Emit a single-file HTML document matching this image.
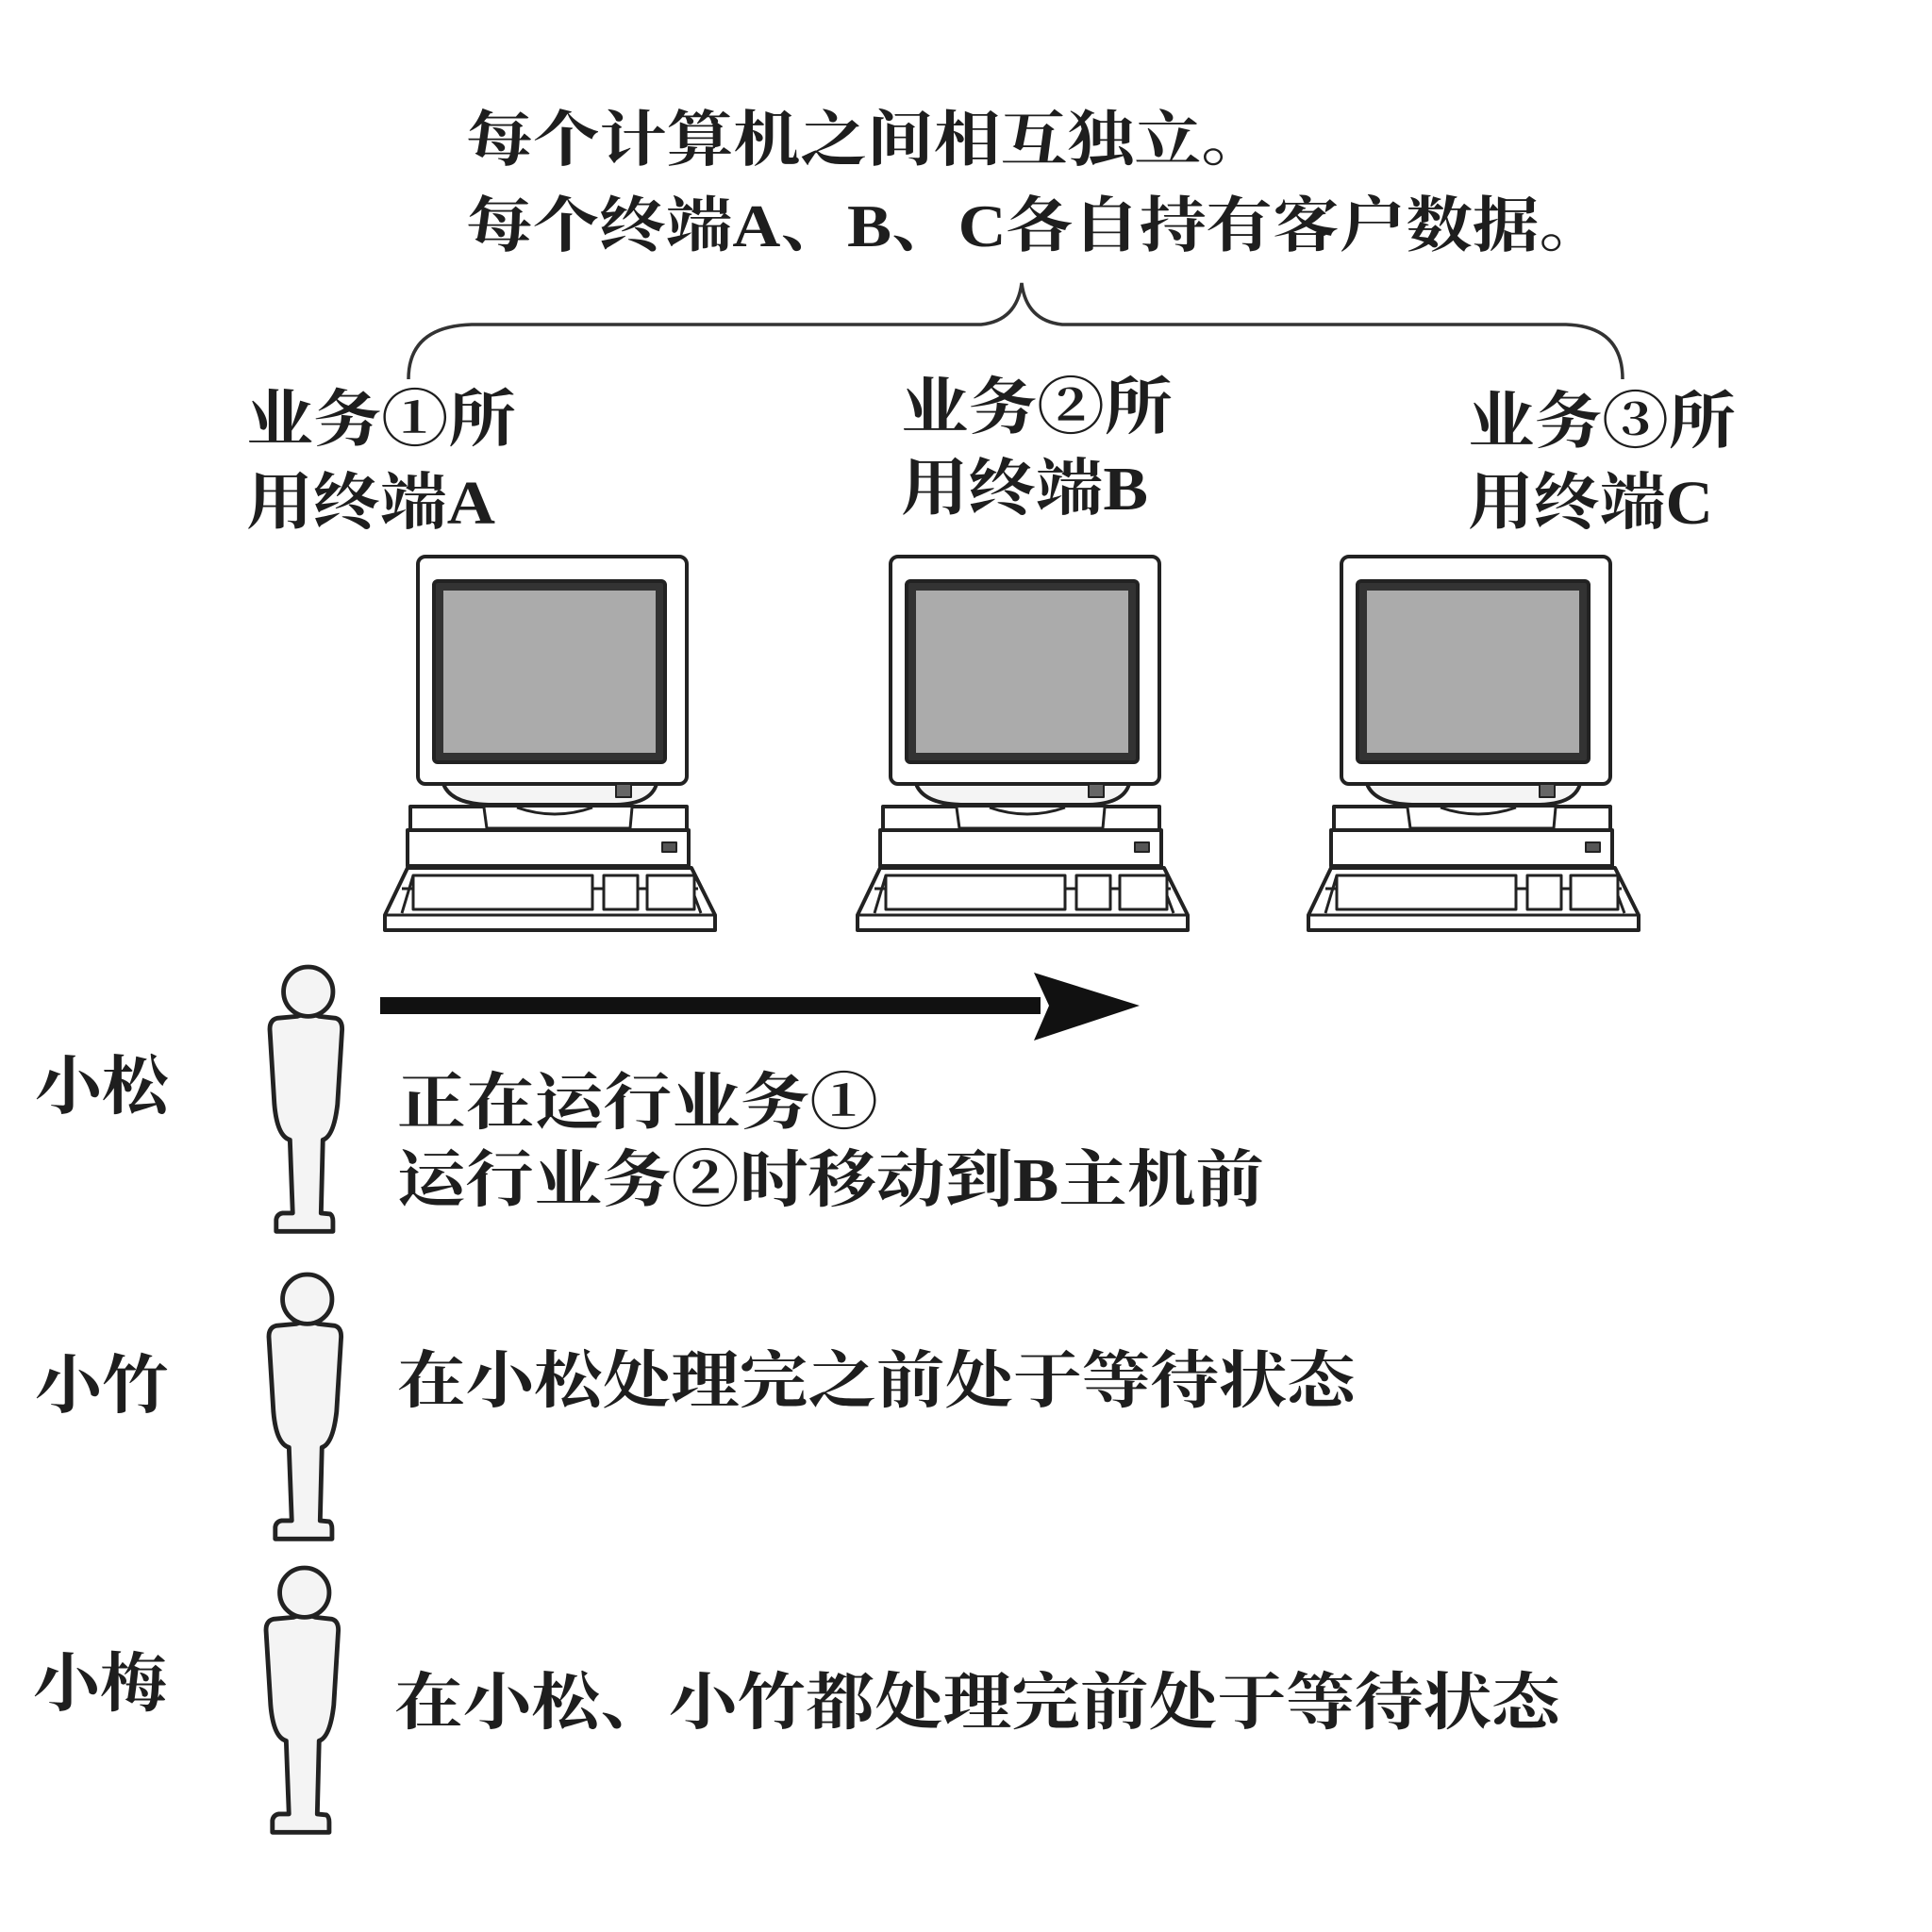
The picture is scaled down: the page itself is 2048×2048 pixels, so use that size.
<!DOCTYPE html>
<html><head><meta charset="utf-8"><style>
html,body{margin:0;padding:0;background:#fff;}
svg{display:block}
text{font-family:"Liberation Serif","Noto Serif CJK SC",serif;font-weight:bold;fill:#1e1e1e;}
</style></head><body>
<svg width="2048" height="2048" viewBox="0 0 2048 2048" xmlns="http://www.w3.org/2000/svg">
<defs>
<g id="pc" fill="#fff" stroke="#222" stroke-width="4" stroke-linejoin="round">
  <path d="M62 241 Q70 262 110 263 L245 263 Q282 262 288 241 Z" fill="#f4f4f4"/>
  <rect x="35" y="0" width="285" height="241" rx="8"/>
  <rect x="52" y="26" width="245" height="192" rx="4" fill="#333" stroke="#222"/>
  <rect x="62" y="36" width="225" height="172" fill="#ababab" stroke="none"/>
  <rect x="245" y="241" width="16" height="14" fill="#666" stroke-width="2"/>
  <rect x="27" y="265" width="293" height="25"/>
  <path d="M105 266 L108 288 L260 288 L262 266" fill="#fff" stroke-width="3"/>
  <path d="M140 266 Q180 280 220 266" fill="none" stroke-width="3"/>
  <rect x="24" y="290" width="298" height="38"/>
  <rect x="294" y="303" width="15" height="10" fill="#555" stroke-width="2"/>
  <path d="M24 330 L325 330 L350 380 L350 396 L0 396 L0 380 Z"/>
  <path d="M0 380 L350 380" fill="none" stroke-width="3"/>
  <path d="M18 352 L332 352 M30 338 L18 378 M320 338 L335 378" fill="none" stroke-width="3"/>
  <rect x="30" y="338" width="190" height="36" fill="#fff" stroke-width="3"/>
  <rect x="232" y="338" width="36" height="36" fill="#fff" stroke-width="3"/>
  <rect x="278" y="338" width="50" height="36" fill="#fff" stroke-width="3"/>
</g>
<g id="man" fill="#f4f4f4" stroke="#222" stroke-width="5" stroke-linejoin="round">
  <path d="M30 54 Q42 50 42 50 Q42 50 54 54 L72 56 Q79 58 79 68 L74 150 Q70 185 58 189 L56 269 L66 270 Q69 272 69 278 L69 289 L7 289 L7 276 Q8 270 14 269 L25 269 L22 189 Q8 185 5 150 L0 68 Q0 58 8 56 Z"/>
  <circle cx="42" cy="27" r="27"/>
</g>
</defs>
<rect width="2048" height="2048" fill="#fff"/>

<text x="494" y="170" font-size="64" textLength="850" lengthAdjust="spacingAndGlyphs">每个计算机之间相互独立。</text>
<text x="494" y="261" font-size="64" textLength="1208" lengthAdjust="spacingAndGlyphs">每个终端A、B、C各自持有客户数据。</text>

<path d="M433 402 Q433 346 500 344 L1040 344 Q1078 340 1083 300 Q1088 340 1126 344 L1660 344 Q1720 346 1720 402" fill="none" stroke="#333" stroke-width="3.5"/>

<g font-size="66">
<text x="261" y="467" textLength="286" lengthAdjust="spacingAndGlyphs">业务①所</text>
<text x="261" y="555" textLength="264" lengthAdjust="spacingAndGlyphs">用终端A</text>
<text x="955" y="454" textLength="288" lengthAdjust="spacingAndGlyphs">业务②所</text>
<text x="955" y="540" textLength="262" lengthAdjust="spacingAndGlyphs">用终端B</text>
<text x="1556" y="469" textLength="284" lengthAdjust="spacingAndGlyphs">业务③所</text>
<text x="1556" y="555" textLength="260" lengthAdjust="spacingAndGlyphs">用终端C</text>
</g>

<use href="#pc" x="408" y="590"/>
<use href="#pc" x="909" y="590"/>
<use href="#pc" x="1387" y="590"/>

<rect x="403" y="1057" width="700" height="18" fill="#111"/>
<path d="M1096 1031 L1208 1066 L1096 1103 L1112 1066 Z" fill="#111"/>

<use href="#man" transform="translate(286 1025) scale(0.97)"/>
<use href="#man" transform="translate(285 1351) scale(0.97)"/>
<use href="#man" transform="translate(282 1662) scale(0.97)"/>

<g font-size="68">
<text x="37" y="1175" textLength="142" lengthAdjust="spacingAndGlyphs">小松</text>
<text x="37" y="1492" textLength="142" lengthAdjust="spacingAndGlyphs">小竹</text>
<text x="35" y="1808" textLength="142" lengthAdjust="spacingAndGlyphs">小梅</text>
</g>
<g font-size="66">
<text x="421" y="1191" textLength="510" lengthAdjust="spacingAndGlyphs">正在运行业务①</text>
<text x="421" y="1273" textLength="919" lengthAdjust="spacingAndGlyphs">运行业务②时移动到B主机前</text>
<text x="421" y="1486" textLength="1016" lengthAdjust="spacingAndGlyphs">在小松处理完之前处于等待状态</text>
<text x="418" y="1827" textLength="1236" lengthAdjust="spacingAndGlyphs">在小松、小竹都处理完前处于等待状态</text>
</g>
</svg>
</body></html>
